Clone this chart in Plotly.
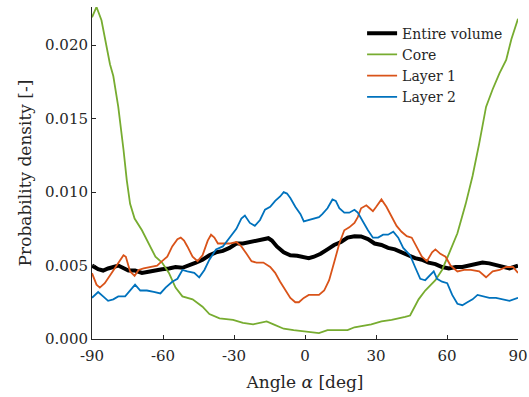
import plotly.graph_objects as go

# Angle grids (deg) and probability densities for each region
entire_angle = [-90, -87.4, -85.3, -83.2, -78.9, -76.7, -74.6, -71.8, -68.9, -66.1, -63.2, -60.4,
                -57.5, -54.7, -51.8, -49.0, -46.1, -43.3, -40.4, -37.6, -34.7, -31.9, -29.0, -26.2,
                -23.3, -20.5, -17.6, -15.5, -14.0, -11.9, -9.0, -6.2, -3.3, -0.5, 1.6, 3.8, 6.6,
                9.5, 12.3, 15.2, 18.0, 20.9, 23.7, 26.6, 29.4, 32.3, 35.1, 38.0, 40.8, 43.7, 46.5,
                49.4, 52.2, 55.1, 57.9, 60.8, 63.6, 66.5, 69.3, 72.2, 75.0, 77.9, 80.7, 83.6, 86.4, 90]
entire_pdf = [0.0050, 0.00475, 0.00466, 0.0048, 0.0050, 0.00482, 0.00466, 0.00466, 0.0045, 0.00458,
              0.0047, 0.00475, 0.0048, 0.0049, 0.00485, 0.0050, 0.0052, 0.0054, 0.0057, 0.0059,
              0.0060, 0.0062, 0.0065, 0.0065, 0.0066, 0.0067, 0.0068, 0.00686, 0.0067, 0.0063,
              0.0059, 0.0057, 0.00566, 0.0056, 0.0055, 0.0056, 0.0058, 0.0061, 0.0064, 0.0066,
              0.0069, 0.0070, 0.00698, 0.0068, 0.0065, 0.0064, 0.0062, 0.0061, 0.0059, 0.00566,
              0.0055, 0.0054, 0.0052, 0.0051, 0.0049, 0.0048, 0.0049, 0.0049, 0.0050, 0.0051,
              0.0052, 0.00515, 0.00505, 0.0049, 0.0048, 0.0050]

core_angle = [-90, -88.1, -86.0, -83.2, -82.4, -81.0, -78.9, -76.7, -75.3, -73.9, -72.0, -68.9, -66.1,
              -63.2, -60.4, -57.5, -54.7, -51.8, -47.5, -43.3, -40.4, -36.1, -30.4, -26.2, -21.9,
              -16.2, -13.3, -9.0, -4.8, -0.5, 5.9, 9.5, 13.8, 18.0, 20.9, 25.2, 28.0, 32.3, 36.6,
              42.3, 44.4, 48.0, 50.8, 55.1, 57.9, 60.8, 64.4, 67.9, 70.8, 73.6, 76.5, 79.3, 82.2,
              85.0, 87.2, 90]
core_pdf = [0.0219, 0.0226, 0.0217, 0.0195, 0.0187, 0.0179, 0.0158, 0.0129, 0.0108, 0.0092, 0.0082,
            0.0074, 0.0065, 0.0056, 0.0052, 0.0045, 0.0035, 0.0029, 0.0027, 0.0022, 0.0017, 0.0014,
            0.0013, 0.0011, 0.0010, 0.0012, 0.0010, 0.0007, 0.0006, 0.0005, 0.0004, 0.0006, 0.0006,
            0.0006, 0.0008, 0.0009, 0.0010, 0.0012, 0.0013, 0.0015, 0.0016, 0.0027, 0.0033, 0.0040,
            0.0047, 0.0058, 0.0072, 0.0092, 0.0111, 0.0133, 0.0158, 0.0170, 0.0181, 0.0190, 0.0204,
            0.0218]

layer1_angle = [-90, -88.1, -86.7, -84.6, -81.7, -78.9, -76.7, -75.7, -73.9, -72.0, -70.3, -68.2,
                -65.3, -62.5, -60.4, -58.2, -56.1, -53.9, -52.5, -51.1, -49.7, -47.5, -45.4, -43.3,
                -41.1, -39.7, -38.3, -36.8, -34.7, -31.9, -29.0, -26.9, -24.7, -22.6, -20.5, -17.6,
                -14.7, -12.6, -10.5, -8.3, -6.2, -4.1, -2.6, -0.5, 1.6, 3.8, 5.9, 8.1, 10.2, 12.3,
                14.5, 16.6, 18.7, 20.9, 22.3, 23.7, 25.9, 27.3, 28.7, 30.1, 32.3, 34.4, 36.6, 38.7,
                40.8, 43.0, 45.1, 47.2, 49.4, 51.5, 53.7, 55.1, 57.2, 59.4, 61.5, 64.4, 67.2, 70.1,
                73.6, 76.5, 79.3, 82.2, 85.0, 87.9, 90]
layer1_pdf = [0.00448, 0.0037, 0.0035, 0.0038, 0.0045, 0.0052, 0.0057, 0.0056, 0.0046, 0.0043,
              0.0047, 0.0048, 0.0049, 0.0050, 0.0053, 0.0056, 0.0063, 0.0068, 0.0069, 0.0067,
              0.0063, 0.0056, 0.0053, 0.0057, 0.0067, 0.0071, 0.0069, 0.0065, 0.0065, 0.0065,
              0.0066, 0.0063, 0.0058, 0.0053, 0.0052, 0.0052, 0.0049, 0.0045, 0.0039, 0.0033,
              0.0028, 0.0025, 0.0025, 0.0028, 0.0030, 0.0030, 0.0030, 0.0033, 0.0040, 0.0052,
              0.0065, 0.0074, 0.0076, 0.0079, 0.0083, 0.0089, 0.0091, 0.0089, 0.0087, 0.0090,
              0.0095, 0.0090, 0.0083, 0.0077, 0.0073, 0.0070, 0.0069, 0.0063, 0.0056, 0.0053,
              0.0059, 0.0061, 0.0058, 0.0056, 0.0050, 0.0046, 0.0047, 0.0047, 0.0046, 0.0042,
              0.0046, 0.0047, 0.0049, 0.0049, 0.0045]

layer2_angle = [-90, -87.4, -85.3, -83.2, -81.0, -78.9, -76.0, -73.9, -71.8, -69.6, -66.8, -63.9,
                -61.1, -58.9, -56.1, -53.9, -51.8, -49.7, -46.8, -44.7, -42.5, -40.4, -37.6, -34.7,
                -31.9, -29.0, -26.9, -25.4, -23.3, -21.2, -19.0, -16.9, -14.7, -12.6, -10.5, -9.0,
                -7.6, -6.2, -4.1, -1.9, -0.5, 1.6, 3.8, 5.9, 7.3, 9.5, 11.6, 13.0, 14.5, 16.6, 18.7,
                20.9, 22.3, 24.4, 26.6, 28.7, 30.9, 33.0, 35.1, 37.3, 39.4, 41.5, 44.4, 46.5, 48.7,
                50.8, 53.0, 54.4, 55.8, 57.9, 60.1, 62.2, 64.4, 66.5, 68.6, 70.8, 72.9, 75.0, 77.9,
                80.7, 83.6, 86.4, 90]
layer2_pdf = [0.0028, 0.0032, 0.0029, 0.0026, 0.0027, 0.0029, 0.0029, 0.0033, 0.0037, 0.0033,
              0.0033, 0.0032, 0.0031, 0.0035, 0.0039, 0.0041, 0.0047, 0.0046, 0.0045, 0.0042,
              0.0047, 0.0054, 0.0061, 0.0063, 0.0069, 0.0075, 0.0082, 0.0084, 0.0079, 0.0077,
              0.0081, 0.0088, 0.0090, 0.0094, 0.0097, 0.0100, 0.0099, 0.0096, 0.0090, 0.0085,
              0.0080, 0.0081, 0.0082, 0.0083, 0.0085, 0.0089, 0.0095, 0.0094, 0.0089, 0.0086,
              0.0086, 0.0088, 0.0086, 0.0080, 0.0074, 0.0069, 0.0069, 0.0071, 0.0071, 0.0073,
              0.0069, 0.0062, 0.0057, 0.0049, 0.0041, 0.0040, 0.0044, 0.0046, 0.0041, 0.0039,
              0.0038, 0.0030, 0.0024, 0.0023, 0.0025, 0.0027, 0.0030, 0.0029, 0.0028, 0.0028,
              0.0027, 0.0026, 0.0028]

x_ticks = [-90, -60, -30, 0, 30, 60, 90]
x_tick_text = ["-90", "-60", "-30", "0", "30", "60", "90"]
y_ticks = [0.000, 0.005, 0.010, 0.015, 0.020]
y_tick_text = ["0.000", "0.005", "0.010", "0.015", "0.020"]

FONT = "DejaVu Serif"

series = [
    ("Entire volume", entire_angle, entire_pdf, "#000000", 4),
    ("Core", core_angle, core_pdf, "#77AC30", 1.8),
    ("Layer 1", layer1_angle, layer1_pdf, "#D95319", 1.8),
    ("Layer 2", layer2_angle, layer2_pdf, "#0072BD", 1.8),
]

fig = go.Figure()
for name, xs, ys, color, width in series:
    fig.add_trace(go.Scatter(x=xs, y=ys, mode="lines", name=name,
                             line=dict(color=color, width=width)))

axis_common = dict(showgrid=False, zeroline=False, showline=True, linecolor="#262626",
                   linewidth=1, ticks="inside", ticklen=4, tickcolor="#262626",
                   automargin=False,
                   tickfont=dict(family=FONT, size=15, color="#262626"))

fig.update_layout(
    width=529, height=397,
    margin=dict(l=92, r=11, t=7, b=58),
    plot_bgcolor="white", paper_bgcolor="white",
    font=dict(family=FONT, color="#262626"),
    xaxis=dict(range=[-90, 90], tickvals=x_ticks, ticktext=x_tick_text,
               ticklabelstandoff=3,
               title=dict(text="Angle <i>α</i> [deg]", font=dict(family=FONT, size=17), standoff=12),
               **axis_common),
    yaxis=dict(range=[0, 0.0226], tickvals=y_ticks, ticktext=y_tick_text,
               title=dict(text="Probability density [-]", font=dict(family=FONT, size=17), standoff=9),
               **axis_common),
    legend=dict(x=0.634, y=0.968, xanchor="left", yanchor="top",
                bgcolor="rgba(0,0,0,0)", borderwidth=0,
                font=dict(family=FONT, size=14, color="#262626"),
                itemwidth=30, tracegroupgap=0),
    showlegend=True,
)

fig.write_html("out.html")
